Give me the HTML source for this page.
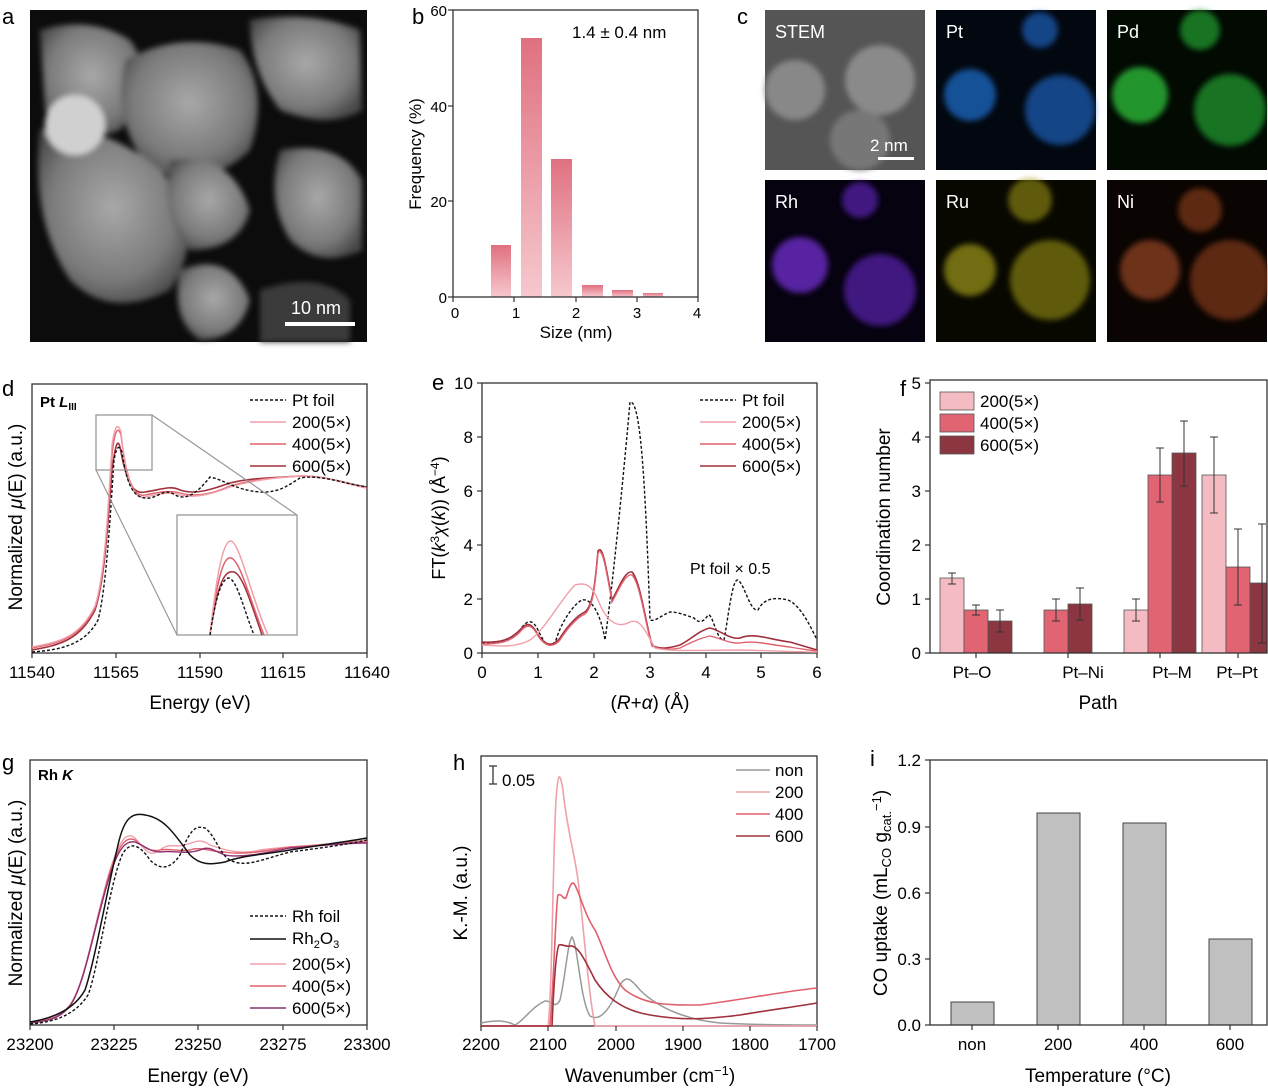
<!DOCTYPE html>
<html><head><meta charset="utf-8"><style>
html,body{margin:0;padding:0;background:#fff;}
svg{display:block;font-family:"Liberation Sans",Arial,sans-serif;}
</style></head><body>
<svg width="1268" height="1089" viewBox="0 0 1268 1089" xmlns="http://www.w3.org/2000/svg">
<defs>
<radialGradient id="blob" cx="50%" cy="45%" r="60%"><stop offset="0" stop-color="#a8a8a8"/><stop offset="0.7" stop-color="#7a7a7a"/><stop offset="1" stop-color="#4a4a4a"/></radialGradient>
<linearGradient id="bar" x1="0" y1="0" x2="0" y2="1"><stop offset="0" stop-color="#e07080"/><stop offset="1" stop-color="#f6c8ce"/></linearGradient>
<filter id="bl"><feGaussianBlur stdDeviation="3"/></filter>
</defs>
<g font-size="18">
<text x="2" y="24" font-size="22">a</text>
<text x="412" y="24" font-size="22">b</text>
<text x="737" y="24" font-size="22">c</text>
<text x="2" y="396" font-size="22">d</text>
<text x="432" y="390" font-size="22">e</text>
<text x="900" y="396" font-size="22">f</text>
<text x="2" y="770" font-size="22">g</text>
<text x="453" y="770" font-size="22">h</text>
<text x="870" y="766" font-size="22">i</text>

<!-- panel a -->
<rect x="30" y="10" width="337" height="332" fill="#0c0c0c"/>
<g filter="url(#bl)">
<path d="M40 30 Q90 15 130 40 Q160 80 120 130 Q70 150 45 110 Z" fill="url(#blob)"/>
<path d="M125 60 Q180 30 240 50 Q270 90 250 150 Q210 190 150 170 Q110 120 125 60Z" fill="url(#blob)"/>
<path d="M250 20 Q310 10 360 30 L362 110 Q330 130 280 110 Q250 70 250 20Z" fill="url(#blob)"/>
<path d="M40 130 Q100 120 160 170 Q210 230 170 290 Q110 320 70 280 Q30 220 40 130Z" fill="url(#blob)"/>
<path d="M170 160 Q230 150 250 210 Q240 250 190 250 Q160 220 170 160Z" fill="url(#blob)"/>
<path d="M280 150 Q340 140 362 180 L362 250 Q320 270 290 240 Q265 200 280 150Z" fill="url(#blob)"/>
<path d="M180 270 Q230 250 250 300 Q240 340 200 340 Q170 320 180 270Z" fill="url(#blob)"/>
<circle cx="75" cy="125" r="30" fill="#d0d0d0"/>
<path d="M260 290 Q320 270 350 300 L350 342 L260 342Z" fill="#3a3a3a"/>
</g>
<rect x="285" y="322" width="70" height="4" fill="#fff"/>
<text x="291" y="314" fill="#fff" font-size="18">10 nm</text>

<!-- panel b -->
<g>
<rect x="491" y="245" width="20" height="52" fill="url(#bar)"/>
<rect x="521" y="38" width="21" height="259" fill="url(#bar)"/>
<rect x="551" y="159" width="21" height="138" fill="url(#bar)"/>
<rect x="582" y="285" width="21" height="12" fill="url(#bar)"/>
<rect x="612" y="290" width="21" height="7" fill="url(#bar)"/>
<rect x="643" y="293" width="20" height="4" fill="url(#bar)"/>
<rect x="453" y="10" width="245" height="287" fill="none" stroke="#333" stroke-width="1.3"/>
<g stroke="#333" stroke-width="1.2">
<line x1="453" y1="297" x2="453" y2="302"/><line x1="514" y1="297" x2="514" y2="302"/><line x1="576" y1="297" x2="576" y2="302"/><line x1="637" y1="297" x2="637" y2="302"/><line x1="698" y1="297" x2="698" y2="302"/>
<line x1="448" y1="297" x2="453" y2="297"/><line x1="448" y1="201" x2="453" y2="201"/><line x1="448" y1="106" x2="453" y2="106"/><line x1="448" y1="10" x2="453" y2="10"/>
</g>
<g font-size="15" text-anchor="middle"><text x="455" y="318">0</text><text x="516" y="318">1</text><text x="576" y="318">2</text><text x="637" y="318">3</text><text x="697" y="318">4</text></g>
<g font-size="15" text-anchor="end"><text x="447" y="303">0</text><text x="447" y="207">20</text><text x="447" y="112">40</text><text x="447" y="16">60</text></g>
<text x="576" y="338" font-size="17" text-anchor="middle">Size (nm)</text>
<text transform="translate(421,154) rotate(-90)" font-size="17" text-anchor="middle">Frequency (%)</text>
<text x="572" y="38" font-size="17">1.4 ± 0.4 nm</text>
</g>

<!-- panel c -->
<rect x="765" y="10" width="160" height="160" fill="#555"/>
<g filter="url(#bl)"><circle cx="795" cy="90" r="30" fill="#888"/><circle cx="880" cy="80" r="35" fill="#8a8a8a"/><circle cx="860" cy="140" r="30" fill="#777"/></g>
<text x="775" y="38" fill="#fff">STEM</text>
<rect x="878" y="157" width="36" height="3" fill="#fff"/><text x="870" y="151" fill="#fff" font-size="17">2 nm</text>
<rect x="936" y="10" width="160" height="160" fill="#030810"/>
<g filter="url(#bl)" opacity="0.7"><circle cx="970" cy="95" r="26" fill="#1f6fd0"/><circle cx="1060" cy="110" r="35" fill="#1a5fb8"/><circle cx="1040" cy="30" r="18" fill="#1a5fb8"/></g>
<text x="946" y="38" fill="#fff">Pt</text>
<rect x="1107" y="10" width="160" height="160" fill="#020a02"/>
<g filter="url(#bl)" opacity="0.7"><circle cx="1140" cy="95" r="28" fill="#30d040"/><circle cx="1230" cy="110" r="36" fill="#20a030"/><circle cx="1200" cy="30" r="20" fill="#20a030"/></g>
<text x="1117" y="38" fill="#fff">Pd</text>
<rect x="765" y="180" width="160" height="162" fill="#060210"/>
<g filter="url(#bl)" opacity="0.7"><circle cx="800" cy="265" r="28" fill="#7a30e0"/><circle cx="880" cy="290" r="36" fill="#5a20b0"/><circle cx="860" cy="200" r="18" fill="#5a20b0"/></g>
<text x="775" y="208" fill="#fff">Rh</text>
<rect x="936" y="180" width="160" height="162" fill="#080800"/>
<g filter="url(#bl)" opacity="0.55"><circle cx="970" cy="270" r="26" fill="#c8c020"/><circle cx="1050" cy="280" r="40" fill="#a8a018"/><circle cx="1030" cy="200" r="22" fill="#a8a018"/></g>
<text x="946" y="208" fill="#fff">Ru</text>
<rect x="1107" y="180" width="160" height="162" fill="#0a0402"/>
<g filter="url(#bl)" opacity="0.5"><circle cx="1150" cy="270" r="30" fill="#d06030"/><circle cx="1230" cy="280" r="40" fill="#b05020"/><circle cx="1200" cy="210" r="22" fill="#b05020"/></g>
<text x="1117" y="208" fill="#fff">Ni</text>

<!-- panel d -->
<g>
<rect x="32" y="384" width="335" height="269" fill="none" stroke="#333" stroke-width="1.3"/>
<path d="M32 650 C60 645 80 640 95 610 C105 580 108 520 112 470 C116 440 118 440 120 447 C126 480 132 495 145 492 C160 490 170 485 180 490 C195 495 210 490 230 483 C250 478 270 478 300 476 C330 476 345 484 367 487" fill="none" stroke="#a0303c" stroke-width="1.6"/>
<path d="M32 648 C60 643 80 638 95 608 C105 578 108 515 112 455 C115 428 118 426 121 435 C126 475 132 498 145 495 C160 492 170 490 180 493 C195 497 210 495 230 486 C250 480 270 478 300 476 C330 476 345 484 367 488" fill="none" stroke="#e0606e" stroke-width="1.4"/>
<path d="M32 647 C60 642 80 637 95 606 C105 575 108 510 112 445 C115 424 118 423 121 432 C126 478 132 500 145 497 C160 494 170 491 180 495 C195 498 210 495 230 487 C250 481 270 478 300 476 C330 476 345 484 367 488" fill="none" stroke="#f0a0a8" stroke-width="1.4"/>
<path d="M32 652 C60 650 85 645 98 620 C106 590 110 520 114 460 C117 445 119 445 122 452 C127 485 133 500 150 498 C160 496 165 488 175 495 C185 500 195 496 210 477 C225 480 235 490 260 492 C280 493 290 484 300 478 C320 474 345 484 367 487" fill="none" stroke="#111" stroke-width="1.4" stroke-dasharray="3,2"/>
<rect x="96" y="415" width="56" height="55" fill="none" stroke="#999" stroke-width="1.3"/>
<rect x="177" y="515" width="120" height="120" fill="#fff" stroke="#999" stroke-width="1.3"/>
<line x1="152" y1="415" x2="297" y2="515" stroke="#999" stroke-width="1.2"/>
<line x1="96" y1="470" x2="177" y2="635" stroke="#999" stroke-width="1.2"/>
<path d="M210 635 C218 580 225 570 234 572 C242 574 250 600 262 635" fill="none" stroke="#a0303c" stroke-width="1.5"/>
<path d="M210 635 C218 570 225 556 231 558 C240 560 250 600 264 635" fill="none" stroke="#e0606e" stroke-width="1.5"/>
<path d="M210 635 C218 560 225 540 231 541 C240 543 252 600 268 635" fill="none" stroke="#f0a0a8" stroke-width="1.5"/>
<path d="M210 635 C216 595 222 578 229 578 C237 580 244 610 254 635" fill="none" stroke="#111" stroke-width="1.4" stroke-dasharray="3,2"/>
<text x="40" y="407" font-size="15" font-weight="bold">Pt <tspan font-style="italic">L</tspan><tspan font-size="10" dy="3">III</tspan></text>
<g font-size="17"><text x="292" y="406">Pt foil</text><text x="292" y="428">200(5×)</text><text x="292" y="450">400(5×)</text><text x="292" y="472">600(5×)</text></g>
<line x1="250" y1="400" x2="286" y2="400" stroke="#111" stroke-dasharray="3,2" stroke-width="1.4"/>
<line x1="250" y1="422" x2="286" y2="422" stroke="#f0a0a8" stroke-width="1.6"/>
<line x1="250" y1="444" x2="286" y2="444" stroke="#e0606e" stroke-width="1.6"/>
<line x1="250" y1="466" x2="286" y2="466" stroke="#a0303c" stroke-width="1.6"/>
<g stroke="#333" stroke-width="1.2"><line x1="32" y1="653" x2="32" y2="658"/><line x1="116" y1="653" x2="116" y2="658"/><line x1="200" y1="653" x2="200" y2="658"/><line x1="283" y1="653" x2="283" y2="658"/><line x1="367" y1="653" x2="367" y2="658"/></g>
<g font-size="17" text-anchor="middle"><text x="32" y="678">11540</text><text x="116" y="678">11565</text><text x="200" y="678">11590</text><text x="283" y="678">11615</text><text x="367" y="678">11640</text></g>
<text x="200" y="709" font-size="19" text-anchor="middle">Energy (eV)</text>
<text transform="translate(22,517) rotate(-90)" font-size="19" text-anchor="middle">Normalized <tspan font-style="italic">μ</tspan>(E) (a.u.)</text>
</g>

<!-- panel e -->
<g>
<rect x="482" y="383" width="335" height="270" fill="none" stroke="#333" stroke-width="1.3"/>
<path d="M482 643 C500 645 510 640 520 630 C528 618 533 620 538 630 C545 645 550 650 556 640 C562 620 575 603 582 600 C590 598 600 610 605 640 C610 605 620 515 630 402 C640 400 645 470 650 620 C655 622 662 615 670 612 C678 612 685 615 694 618 C700 625 705 620 708 615 C713 613 716 640 724 640 C728 620 732 578 738 580 C745 585 750 612 758 610 C764 598 775 597 788 600 C800 605 810 625 817 640" fill="none" stroke="#111" stroke-width="1.4" stroke-dasharray="3,2"/>
<path d="M482 642 C500 643 510 640 520 630 C528 620 533 625 538 635 C545 645 552 648 560 638 C568 625 578 615 585 612 C593 605 595 585 598 551 C602 545 605 560 612 600 C618 590 625 570 632 572 C640 580 645 620 652 645 C660 650 670 648 680 645 C690 640 700 630 710 628 C720 630 730 640 740 638 C755 632 770 640 790 642 C800 645 810 648 817 650" fill="none" stroke="#a0303c" stroke-width="1.6"/>
<path d="M482 644 C500 644 510 642 520 632 C528 622 533 626 538 636 C545 646 552 649 560 640 C568 627 578 617 585 614 C593 607 595 587 598 553 C602 547 605 562 612 602 C618 592 625 573 632 575 C640 583 645 622 652 646 C660 650 670 650 680 648 C690 643 700 638 710 636 C720 638 730 644 740 643 C755 640 770 645 790 647 C800 649 810 650 817 651" fill="none" stroke="#e0606e" stroke-width="1.4"/>
<path d="M482 645 C500 646 515 648 530 640 C545 630 560 600 575 585 C585 582 592 585 598 600 C605 618 615 630 630 622 C640 618 645 630 655 648 C670 652 700 650 740 650 C780 651 800 652 817 652" fill="none" stroke="#f0a0a8" stroke-width="1.4"/>
<text x="690" y="574" font-size="16">Pt foil × 0.5</text>
<g font-size="17"><text x="742" y="406">Pt foil</text><text x="742" y="428">200(5×)</text><text x="742" y="450">400(5×)</text><text x="742" y="472">600(5×)</text></g>
<line x1="700" y1="400" x2="736" y2="400" stroke="#111" stroke-dasharray="3,2" stroke-width="1.4"/>
<line x1="700" y1="422" x2="736" y2="422" stroke="#f0a0a8" stroke-width="1.6"/>
<line x1="700" y1="444" x2="736" y2="444" stroke="#e0606e" stroke-width="1.6"/>
<line x1="700" y1="466" x2="736" y2="466" stroke="#a0303c" stroke-width="1.6"/>
<g stroke="#333" stroke-width="1.2"><line x1="482" y1="653" x2="482" y2="658"/><line x1="538" y1="653" x2="538" y2="658"/><line x1="594" y1="653" x2="594" y2="658"/><line x1="650" y1="653" x2="650" y2="658"/><line x1="706" y1="653" x2="706" y2="658"/><line x1="761" y1="653" x2="761" y2="658"/><line x1="817" y1="653" x2="817" y2="658"/>
<line x1="477" y1="653" x2="482" y2="653"/><line x1="477" y1="599" x2="482" y2="599"/><line x1="477" y1="545" x2="482" y2="545"/><line x1="477" y1="491" x2="482" y2="491"/><line x1="477" y1="437" x2="482" y2="437"/><line x1="477" y1="383" x2="482" y2="383"/></g>
<g font-size="17" text-anchor="middle"><text x="482" y="678">0</text><text x="538" y="678">1</text><text x="594" y="678">2</text><text x="650" y="678">3</text><text x="706" y="678">4</text><text x="761" y="678">5</text><text x="817" y="678">6</text></g>
<g font-size="17" text-anchor="end"><text x="473" y="659">0</text><text x="473" y="605">2</text><text x="473" y="551">4</text><text x="473" y="497">6</text><text x="473" y="443">8</text><text x="473" y="389">10</text></g>
<text x="650" y="709" font-size="19" text-anchor="middle">(<tspan font-style="italic">R</tspan>+<tspan font-style="italic">α</tspan>) (Å)</text>
<text transform="translate(445,518) rotate(-90)" font-size="18" text-anchor="middle">FT(<tspan font-style="italic">k</tspan><tspan font-size="12" dy="-6">3</tspan><tspan dy="6" font-style="italic">χ</tspan>(<tspan font-style="italic">k</tspan>)) (Å<tspan font-size="12" dy="-6">−4</tspan><tspan dy="6">)</tspan></text>
</g>

<!-- panel f -->
<g>
<g stroke="#555" stroke-width="0.8">
<rect x="940" y="578" width="24" height="75" fill="#f4bcc2"/>
<rect x="964" y="610" width="24" height="43" fill="#e06472"/>
<rect x="988" y="621" width="24" height="32" fill="#8c3642"/>
<rect x="1044" y="610" width="24" height="43" fill="#e06472"/>
<rect x="1068" y="604" width="24" height="49" fill="#8c3642"/>
<rect x="1124" y="610" width="24" height="43" fill="#f4bcc2"/>
<rect x="1148" y="475" width="24" height="178" fill="#e06472"/>
<rect x="1172" y="453" width="24" height="200" fill="#8c3642"/>
<rect x="1202" y="475" width="24" height="178" fill="#f4bcc2"/>
<rect x="1226" y="567" width="24" height="86" fill="#e06472"/>
<rect x="1250" y="583" width="17" height="70" fill="#8c3642"/>
</g>
<g stroke="#333" stroke-width="1" fill="none">
<path d="M952 573v11M948 573h8M948 584h8"/><path d="M976 605v10M972 605h8M972 615h8"/><path d="M1000 610v22M996 610h8M996 632h8"/>
<path d="M1056 599v22M1052 599h8M1052 621h8"/><path d="M1080 588v32M1076 588h8M1076 620h8"/>
<path d="M1136 599v22M1132 599h8M1132 621h8"/><path d="M1160 448v54M1156 448h8M1156 502h8"/><path d="M1184 421v65M1180 421h8M1180 486h8"/>
<path d="M1214 437v76M1210 437h8M1210 513h8"/><path d="M1238 529v76M1234 529h8M1234 605h8"/><path d="M1262 524v119M1258 524h8M1258 643h8"/>
</g>
<rect x="930" y="380" width="337" height="273" fill="none" stroke="#333" stroke-width="1.3"/>
<g stroke="#555" stroke-width="0.8"><rect x="940" y="392" width="34" height="18" fill="#f4bcc2"/><rect x="940" y="414" width="34" height="18" fill="#e06472"/><rect x="940" y="436" width="34" height="18" fill="#8c3642"/></g>
<g font-size="17"><text x="980" y="407">200(5×)</text><text x="980" y="429">400(5×)</text><text x="980" y="451">600(5×)</text></g>
<g stroke="#333" stroke-width="1.2"><line x1="925" y1="653" x2="930" y2="653"/><line x1="925" y1="599" x2="930" y2="599"/><line x1="925" y1="545" x2="930" y2="545"/><line x1="925" y1="491" x2="930" y2="491"/><line x1="925" y1="437" x2="930" y2="437"/><line x1="925" y1="383" x2="930" y2="383"/>
<line x1="976" y1="653" x2="976" y2="658"/><line x1="1068" y1="653" x2="1068" y2="658"/><line x1="1160" y1="653" x2="1160" y2="658"/><line x1="1238" y1="653" x2="1238" y2="658"/></g>
<g font-size="17" text-anchor="end"><text x="921" y="659">0</text><text x="921" y="605">1</text><text x="921" y="551">2</text><text x="921" y="497">3</text><text x="921" y="443">4</text><text x="921" y="389">5</text></g>
<g font-size="17" text-anchor="middle"><text x="972" y="678">Pt–O</text><text x="1083" y="678">Pt–Ni</text><text x="1172" y="678">Pt–M</text><text x="1237" y="678">Pt–Pt</text></g>
<text x="1098" y="709" font-size="19" text-anchor="middle">Path</text>
<text transform="translate(890,517) rotate(-90)" font-size="19" text-anchor="middle">Coordination number</text>
</g>

<!-- panel g -->
<g>
<rect x="30" y="760" width="337" height="265" fill="none" stroke="#333" stroke-width="1.3"/>
<path d="M30 1022 C50 1020 60 1018 70 1005 C85 985 95 920 110 870 C118 845 125 830 135 838 C145 850 150 858 160 850 C170 842 175 848 185 845 C195 842 200 838 210 845 C225 850 240 855 260 850 C290 846 330 845 367 840" fill="none" stroke="#f0a0a8" stroke-width="1.4"/>
<path d="M30 1022 C50 1020 60 1018 70 1005 C85 985 95 920 110 872 C118 848 125 835 135 840 C145 848 150 852 160 850 C170 848 178 852 190 850 C200 846 210 852 225 852 C240 855 260 852 290 847 C330 845 345 842 367 842" fill="none" stroke="#e0606e" stroke-width="1.4"/>
<path d="M30 1023 C50 1021 60 1018 70 1006 C85 985 95 922 110 875 C118 850 125 840 135 842 C145 846 150 852 160 852 C175 850 185 855 200 850 C210 845 215 852 225 855 C240 858 260 854 290 848 C330 845 345 843 367 843" fill="none" stroke="#8c3070" stroke-width="1.4"/>
<path d="M30 1022 C55 1018 75 1008 85 990 C95 960 105 900 118 845 C124 818 132 812 145 815 C165 818 175 835 190 855 C200 865 210 865 225 862 C240 856 260 855 290 850 C320 845 345 842 367 838" fill="none" stroke="#111" stroke-width="1.5"/>
<path d="M30 1024 C55 1022 75 1015 88 995 C98 970 108 890 122 855 C130 840 140 845 150 860 C160 870 170 870 180 855 C190 830 195 825 205 828 C215 835 220 855 230 860 C245 868 260 860 290 852 C320 848 345 845 367 840" fill="none" stroke="#111" stroke-width="1.4" stroke-dasharray="3,2"/>
<text x="38" y="780" font-size="15" font-weight="bold">Rh <tspan font-style="italic">K</tspan></text>
<g font-size="17"><text x="292" y="922">Rh foil</text><text x="292" y="944">Rh<tspan font-size="11" dy="4">2</tspan><tspan dy="-4">O</tspan><tspan font-size="11" dy="4">3</tspan></text><text x="292" y="970">200(5×)</text><text x="292" y="992">400(5×)</text><text x="292" y="1014">600(5×)</text></g>
<line x1="250" y1="916" x2="286" y2="916" stroke="#111" stroke-dasharray="3,2" stroke-width="1.4"/>
<line x1="250" y1="939" x2="286" y2="939" stroke="#111" stroke-width="1.6"/>
<line x1="250" y1="964" x2="286" y2="964" stroke="#f0a0a8" stroke-width="1.6"/>
<line x1="250" y1="986" x2="286" y2="986" stroke="#e0606e" stroke-width="1.6"/>
<line x1="250" y1="1008" x2="286" y2="1008" stroke="#8c3070" stroke-width="1.6"/>
<g stroke="#333" stroke-width="1.2"><line x1="30" y1="1025" x2="30" y2="1030"/><line x1="114" y1="1025" x2="114" y2="1030"/><line x1="198" y1="1025" x2="198" y2="1030"/><line x1="283" y1="1025" x2="283" y2="1030"/><line x1="367" y1="1025" x2="367" y2="1030"/></g>
<g font-size="17" text-anchor="middle"><text x="30" y="1050">23200</text><text x="114" y="1050">23225</text><text x="198" y="1050">23250</text><text x="283" y="1050">23275</text><text x="367" y="1050">23300</text></g>
<text x="198" y="1082" font-size="19" text-anchor="middle">Energy (eV)</text>
<text transform="translate(22,893) rotate(-90)" font-size="19" text-anchor="middle">Normalized <tspan font-style="italic">μ</tspan>(E) (a.u.)</text>
</g>

<!-- panel h -->
<g>
<rect x="481" y="756" width="336" height="270" fill="none" stroke="#333" stroke-width="1.3"/>
<path d="M481 1023 C495 1020 505 1020 515 1025 C525 1020 530 1008 545 1001 C552 1000 555 1010 560 1000 C565 980 568 940 572 937 C578 945 580 1000 590 1016 C600 1022 610 1010 620 985 C626 975 630 978 640 990 C660 1010 690 1020 720 1023 C760 1025 800 1025 817 1025" fill="none" stroke="#999" stroke-width="1.5"/>
<path d="M481 1026 L548 1026 C552 1000 553 850 556 800 C558 770 560 772 563 790 C567 830 574 850 578 880 C583 920 588 990 595 1026 L817 1026" fill="none" stroke="#f0a0a8" stroke-width="1.6"/>
<path d="M481 1026 L550 1026 C554 980 556 900 558 895 C562 893 563 900 566 898 C570 885 572 880 575 885 C582 900 585 915 595 930 C605 950 610 975 625 990 C645 1005 665 1005 700 1005 C740 1000 780 992 817 988" fill="none" stroke="#e0606e" stroke-width="1.6"/>
<path d="M481 1026 L552 1026 C554 980 556 950 559 945 C563 944 565 947 570 946 C578 945 585 960 595 980 C605 995 620 1010 650 1015 C680 1020 700 1020 740 1015 C770 1010 800 1006 817 1003" fill="none" stroke="#a0303c" stroke-width="1.6"/>
<path d="M493 766v18M489 766h8M489 784h8" stroke="#333" stroke-width="1.3" fill="none"/>
<text x="502" y="786" font-size="17">0.05</text>
<g font-size="17"><text x="775" y="776">non</text><text x="775" y="798">200</text><text x="775" y="820">400</text><text x="775" y="842">600</text></g>
<line x1="736" y1="770" x2="770" y2="770" stroke="#999" stroke-width="1.6"/>
<line x1="736" y1="792" x2="770" y2="792" stroke="#f0a0a8" stroke-width="1.6"/>
<line x1="736" y1="814" x2="770" y2="814" stroke="#e0606e" stroke-width="1.6"/>
<line x1="736" y1="836" x2="770" y2="836" stroke="#a0303c" stroke-width="1.6"/>
<g stroke="#333" stroke-width="1.2"><line x1="481" y1="1026" x2="481" y2="1031"/><line x1="548" y1="1026" x2="548" y2="1031"/><line x1="616" y1="1026" x2="616" y2="1031"/><line x1="683" y1="1026" x2="683" y2="1031"/><line x1="750" y1="1026" x2="750" y2="1031"/><line x1="817" y1="1026" x2="817" y2="1031"/></g>
<g font-size="17" text-anchor="middle"><text x="481" y="1050">2200</text><text x="548" y="1050">2100</text><text x="616" y="1050">2000</text><text x="683" y="1050">1900</text><text x="750" y="1050">1800</text><text x="817" y="1050">1700</text></g>
<text x="650" y="1082" font-size="19" text-anchor="middle">Wavenumber (cm<tspan font-size="13" dy="-7">−1</tspan><tspan dy="7">)</tspan></text>
<text transform="translate(467,893) rotate(-90)" font-size="19" text-anchor="middle">K.-M. (a.u.)</text>
</g>

<!-- panel i -->
<g>
<g fill="#c0c0c0" stroke="#444" stroke-width="1">
<rect x="951" y="1002" width="43" height="23"/>
<rect x="1037" y="813" width="43" height="212"/>
<rect x="1123" y="823" width="43" height="202"/>
<rect x="1209" y="939" width="43" height="86"/>
</g>
<rect x="930" y="760" width="337" height="265" fill="none" stroke="#333" stroke-width="1.3"/>
<g stroke="#333" stroke-width="1.2"><line x1="925" y1="1025" x2="930" y2="1025"/><line x1="925" y1="959" x2="930" y2="959"/><line x1="925" y1="893" x2="930" y2="893"/><line x1="925" y1="827" x2="930" y2="827"/><line x1="925" y1="760" x2="930" y2="760"/>
<line x1="972" y1="1025" x2="972" y2="1030"/><line x1="1058" y1="1025" x2="1058" y2="1030"/><line x1="1144" y1="1025" x2="1144" y2="1030"/><line x1="1230" y1="1025" x2="1230" y2="1030"/></g>
<g font-size="17" text-anchor="end"><text x="921" y="1031">0.0</text><text x="921" y="965">0.3</text><text x="921" y="899">0.6</text><text x="921" y="833">0.9</text><text x="921" y="766">1.2</text></g>
<g font-size="17" text-anchor="middle"><text x="972" y="1050">non</text><text x="1058" y="1050">200</text><text x="1144" y="1050">400</text><text x="1230" y="1050">600</text></g>
<text x="1098" y="1082" font-size="19" text-anchor="middle">Temperature (°C)</text>
<text transform="translate(887,893) rotate(-90)" font-size="19" text-anchor="middle">CO uptake (mL<tspan font-size="13" dy="4">CO</tspan><tspan dy="-4"> g</tspan><tspan font-size="13" dy="4">cat.</tspan><tspan font-size="13" dy="-10">−1</tspan><tspan dy="6">)</tspan></text>
</g>
</g>
</svg>
</body></html>
